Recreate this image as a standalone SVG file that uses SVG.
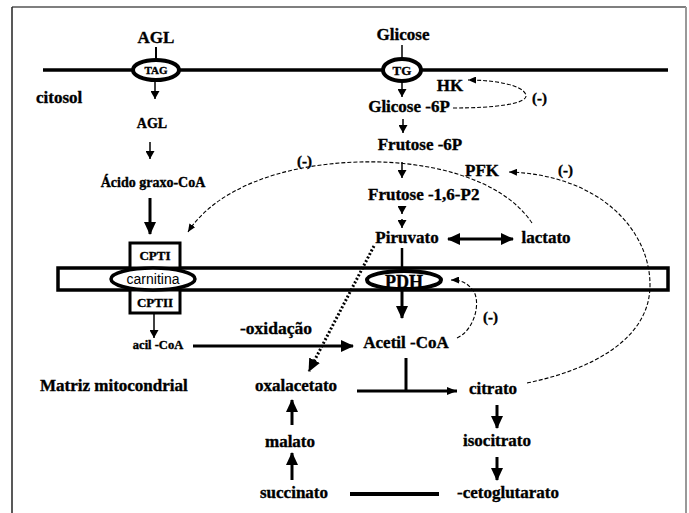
<svg xmlns="http://www.w3.org/2000/svg" width="689" height="513" viewBox="0 0 689 513">
<style>
text{font-family:"Liberation Serif","Times New Roman",serif;font-weight:bold;fill:#000;stroke:#000;stroke-width:0.35}
.m{text-anchor:middle}
.l17{font-size:17px}
.sans{font-family:"Liberation Sans",Arial,sans-serif;font-weight:normal;stroke:none}
.ln{stroke:#000;fill:none}
.thin{stroke-width:1.5}
.thick{stroke-width:3}
.dash{stroke-width:1.1;stroke-dasharray:4 2}
.box{fill:#fff;stroke:#000;stroke-width:3}
</style>
<defs>
<marker id="as" markerWidth="8" markerHeight="9" refX="8" refY="4.5" orient="auto" markerUnits="userSpaceOnUse"><path d="M0,0 L8,4.5 L0,9 z"/></marker>
<marker id="ab" markerWidth="13" markerHeight="12" refX="12" refY="6" orient="auto-start-reverse" markerUnits="userSpaceOnUse"><path d="M0,0 L13,6 L0,12 z"/></marker>
<marker id="am" markerWidth="10" markerHeight="8" refX="10" refY="4" orient="auto" markerUnits="userSpaceOnUse"><path d="M0,0 L10,4 L0,8 z"/></marker>
<marker id="ad" markerWidth="8" markerHeight="7" refX="8" refY="3.5" orient="auto" markerUnits="userSpaceOnUse"><path d="M0,0 L8,3.5 L0,7 z"/></marker>
</defs>
<rect width="689" height="513" fill="#fff"/>
<g id="frame">
<line x1="12" y1="7" x2="686" y2="7" stroke="#555" stroke-width="1.5"/>
<line x1="12" y1="7" x2="12" y2="513" stroke="#222" stroke-width="1.5"/>
<line x1="686" y1="7" x2="686" y2="513" stroke="#999" stroke-width="2"/>
</g>
<g id="cell-membrane"><line x1="43" y1="70" x2="668" y2="70" stroke="#000" stroke-width="3.5"/></g>
<g id="mito-membrane"><rect x="58" y="268" width="610" height="22" fill="#fff" stroke="#000" stroke-width="3.5"/></g>

<g id="connectors">
<line class="ln" x1="156" y1="47" x2="156" y2="60" stroke-width="2"/>
<line class="ln thin" x1="155" y1="81" x2="155" y2="99" marker-end="url(#as)"/>
<line class="ln thin" x1="150" y1="142" x2="150" y2="159" marker-end="url(#as)"/>
<line class="ln thick" x1="150" y1="198" x2="150" y2="234" marker-end="url(#ab)"/>
<line class="ln thin" x1="154" y1="313" x2="154" y2="338" marker-end="url(#as)"/>
<line class="ln thick" x1="193" y1="346" x2="353" y2="346" marker-end="url(#ab)"/>
<line class="ln thin" x1="402" y1="45" x2="402" y2="59"/>
<line class="ln thin" x1="402" y1="82" x2="402" y2="97" marker-end="url(#as)"/>
<line class="ln thin" x1="403" y1="119" x2="403" y2="133" marker-end="url(#as)"/>
<line class="ln thin" x1="402" y1="162" x2="402" y2="178" marker-end="url(#as)"/>
<line class="ln thin" x1="402" y1="206" x2="402" y2="214" marker-end="url(#as)"/>
<line class="ln thin" x1="402" y1="219" x2="402" y2="228" marker-end="url(#as)"/>
<line class="ln thick" x1="448" y1="239" x2="513" y2="239" marker-start="url(#ab)" marker-end="url(#ab)"/>
<line class="ln" x1="402" y1="248" x2="402" y2="271" stroke-width="2.5"/>
<line class="ln thick" x1="402" y1="291" x2="402" y2="318" marker-end="url(#ab)"/>
<line class="ln thick" x1="406" y1="358" x2="406" y2="391"/>
<line class="ln thick" x1="357" y1="391" x2="457" y2="391" marker-end="url(#am)"/>
<line class="ln thick" x1="497" y1="405" x2="497" y2="428" marker-end="url(#ab)"/>
<line class="ln thick" x1="497" y1="457" x2="497" y2="480" marker-end="url(#ab)"/>
<line class="ln" x1="350" y1="494" x2="439" y2="494" stroke-width="4"/>
<line class="ln thick" x1="292" y1="480" x2="292" y2="453" marker-end="url(#ab)"/>
<line class="ln thick" x1="292" y1="425" x2="292" y2="400" marker-end="url(#ab)"/>
<line class="ln" x1="374" y1="246" x2="309" y2="371" stroke-width="3" stroke-dasharray="2 2" marker-end="url(#ab)"/>
<path class="ln dash" d="M453 108 C495 108 528 104 526 95 C523 85 495 80 468 80" marker-end="url(#ad)"/>
<path class="ln dash" d="M527 383 C590 370 650 340 650 285 C650 230 600 175 509 172" marker-end="url(#ad)"/>
<path class="ln dash" d="M532 223 C500 175 420 160 360 162 C280 164 215 190 188 232" marker-end="url(#ad)"/>
<path class="ln dash" d="M457 338 C475 330 482 300 472 289 C466 282 460 280 451 280" marker-end="url(#ad)"/>
</g>

<g id="agl-ext"><text class="m l17" x="156" y="43">AGL</text></g>
<g id="tag"><ellipse cx="156" cy="70" rx="23" ry="10" fill="#fff" stroke="#000" stroke-width="4"/><text class="m" x="156" y="74" font-size="11">TAG</text></g>
<g id="citosol"><text class="l17" x="36" y="103">citosol</text></g>
<g id="agl"><text class="m" x="152" y="128" font-size="14">AGL</text></g>
<g id="acido-graxo-coa"><text class="m" x="153" y="187" font-size="14">Ácido graxo-CoA</text></g>
<g id="cpti"><rect class="box" x="130" y="243" width="50" height="25"/><text class="m" x="155" y="260" font-size="13">CPTI</text></g>
<g id="cptii"><rect class="box" x="130" y="290" width="50" height="23"/><text class="m" x="155" y="307" font-size="13">CPTII</text></g>
<g id="carnitina"><ellipse cx="153" cy="279" rx="42" ry="11" fill="#fff" stroke="#000" stroke-width="3.5"/><text class="m sans" x="153" y="284" font-size="14">carnitina</text></g>
<g id="acil-coa"><text class="m" x="158" y="349" font-size="12.5">acil -CoA</text></g>
<g id="oxidacao"><text x="240" y="334" font-size="17.5">-oxidação</text></g>
<g id="matriz"><text class="l17" x="40" y="391">Matriz mitocondrial</text></g>
<g id="oxalacetato"><text class="m l17" x="296" y="391">oxalacetato</text></g>
<g id="malato"><text class="m l17" x="290" y="447">malato</text></g>
<g id="succinato"><text class="m l17" x="294" y="498">succinato</text></g>
<g id="glicose"><text class="m l17" x="403" y="40">Glicose</text></g>
<g id="tg"><ellipse cx="402" cy="70" rx="19" ry="11" fill="#fff" stroke="#000" stroke-width="4"/><text class="m" x="402" y="75" font-size="13">TG</text></g>
<g id="hk"><text class="m l17" x="450" y="91">HK</text></g>
<g id="inh-hk"><text x="532" y="103" font-size="15">(-)</text></g>
<g id="glicose-6p"><text class="m l17" x="409" y="112">Glicose -6P</text></g>
<g id="frutose-6p"><text class="m l17" x="420" y="150">Frutose -6P</text></g>
<g id="pfk"><text class="m l17" x="482" y="176">PFK</text></g>
<g id="inh-pfk"><text x="558" y="175" font-size="15">(-)</text></g>
<g id="inh-cpt"><text x="297" y="166" font-size="15">(-)</text></g>
<g id="frutose-16p2"><text class="l17" x="368" y="200">Frutose -1,6-P2</text></g>
<g id="piruvato"><text class="m l17" x="407" y="243">Piruvato</text></g>
<g id="lactato"><text class="m l17" x="546" y="243">lactato</text></g>
<g id="pdh"><ellipse cx="404" cy="280" rx="37" ry="9" fill="none" stroke="#000" stroke-width="4"/><text class="m" x="404" y="288" font-size="18">PDH</text></g>
<g id="acetil-coa"><text class="m l17" x="406" y="348">Acetil -CoA</text></g>
<g id="inh-pdh"><text x="483" y="322" font-size="15">(-)</text></g>
<g id="citrato"><text class="m l17" x="493" y="394">citrato</text></g>
<g id="isocitrato"><text class="m l17" x="497" y="446">isocitrato</text></g>
<g id="cetoglutarato"><text class="l17" x="457" y="498">-cetoglutarato</text></g>
</svg>
